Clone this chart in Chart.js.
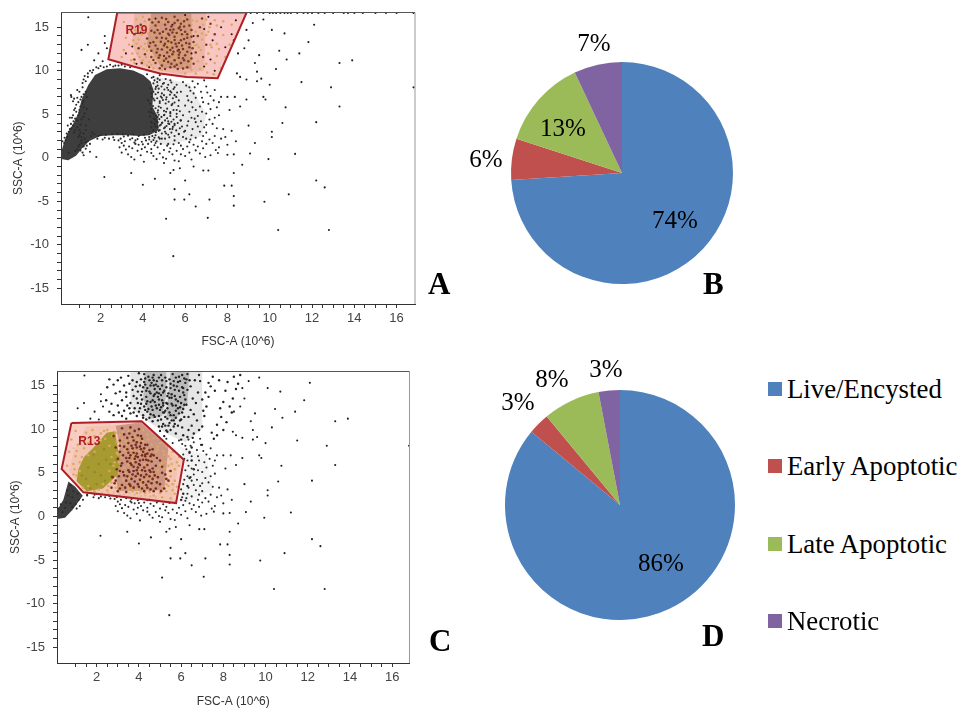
<!DOCTYPE html>
<html><head><meta charset="utf-8">
<script src="https://cdn.jsdelivr.net/npm/chart.js@4"></script>
<style>
html,body{margin:0;padding:0;background:#fff;overflow:hidden}
#page{position:relative;width:961px;height:709px}
canvas{position:absolute}
#a,#c{filter:blur(.35px)}
.tag{position:absolute;font:bold 31px "Liberation Serif",serif;color:#000;line-height:1}
.key{position:absolute;left:768px;font:26.8px "Liberation Serif",serif;color:#000;line-height:30px;white-space:nowrap;padding-left:19px}
.key i{position:absolute;left:0;top:8px;width:14px;height:14px}
</style></head><body>
<div id="page">
<canvas id="a" style="left:0px;top:0px" width="460" height="350"></canvas>
<canvas id="c" style="left:0px;top:360px" width="460" height="349"></canvas>
<canvas id="b" style="left:460px;top:0px" width="324" height="350"></canvas>
<canvas id="d" style="left:480px;top:350px" width="280" height="310"></canvas>
<div class="tag" style="left:428px;top:268px">A</div>
<div class="tag" style="left:703px;top:268px">B</div>
<div class="tag" style="left:429px;top:625px">C</div>
<div class="tag" style="left:702px;top:620px">D</div>
</div>
<script>
const pieLabels=['Live/Encysted','Early Apoptotic','Late Apoptotic','Necrotic'];
const pieColors=['#4F81BD','#C0504D','#9BBB59','#8064A2'];
const valuesB=[74,6,13,7];
const valuesD=[86,3,8,3];
const labelOffsetsB=[[53,48],[-136,-13],[-59,-44],[-28,-129]];
const labelOffsetsD=[[41,59],[-102,-102],[-68,-125],[-14,-135]];
const legendRows=[374,451,529,606];

const xTicks=[2,4,6,8,10,12,14,16];
const yTicks=[-15,-10,-5,0,5,10,15];

const gateA=[2.79,16.7,8.91,16.7,7.54,9.15,6.07,9.3,4.81,9.7,3.55,10.5,2.37,11.33,2.79,16.7];
const gateC=[0.8,10.7,4.13,10.9,6.13,6.5,5.76,1.53,1.37,2.76,0.34,5.43,0.8,10.7];
const blobA=[.13,-.15,.47,-.27,.84,.23,1.1,1,1.45,1.9,1.97,2.5,2.6,2.6,3.23,2.6,3.86,2.5,4.3,2.6,4.75,3.2,4.7,4.75,4.45,5.89,4.5,7.81,4.37,8.76,4.02,9.53,3.55,10.03,2.92,10.29,2.29,10.18,1.74,9.53,1.42,8.38,1.1,6.66,.95,5.13,.7,3.9,.4,2.64,.24,1.49,.13,.54,.13,-.15];
const blobC=[.11,-.3,.5,-.15,.86,.77,1.34,2.37,.97,3.44,.66,4,.42,1.91,.14,.77,.11,-.3];
const olivePatchC=[1.05,4.03,1.53,2.9,2.3,3.2,3,4.8,3.1,6.6,2.95,8.5,2.87,9.77,2.47,9.6,1.9,8,1.4,6.8,1.13,5.37,1.05,4.03];
const toneGateA=[3.6,16.7,7,16.7,6.9,10,5.8,9.6,4.8,10,3.9,10.7,3.5,13,3.6,16.7];
const coreGateA=[4.4,16.6,6.3,16.6,6.3,10.2,4.9,10.3,4.2,13,4.4,16.6];
const toneMidA=[4.5,9.4,6.2,8.5,7,5,6.8,2.5,5.2,1.4,4.3,2,4.4,5,4.5,9.4];
const toneUpperC=[3.6,16.7,7,16.7,7,10,6.2,8.5,5.4,9.4,4.4,10.9,3.6,12.5,3.6,16.7];
const ridgeOneC=[4.3,16.7,5.3,16.7,5.3,14,5.1,11.5,4.6,11.2,4.2,13.5,4.3,16.7];
const ridgeTwoC=[5.5,16.7,6.4,16.7,6.3,13,5.7,11,5.3,11.5,5.4,14,5.5,16.7];
const toneGateC=[.9,7.4,1.5,10.3,4.1,10.6,5.9,6.5,5.6,1.7,1.4,2.9,.7,5.3,.9,7.4];
const coreGateC=[2.9,10.4,4.1,10.8,5.4,8,5.2,3,3,2.9,2.9,5,3.1,8,2.9,10.4];
const toneRightC=[5.9,8,7.2,7,7.5,3,6.3,1.6,5.9,1.6,6.2,6.4,5.9,8];

const sparse=[1.42,16.15,12.1,15.3,11.83,13.3,11.4,12,13.3,10.9,13.9,11.2,11.5,8.7,12.9,8.1,13.3,5.9,12.2,4.1,11.2,.45,12.2,-2.6,12.6,-3.4,10.9,-4.2,9.75,-5.05,12.8,-8.3,10.4,-8.3,7.07,-6.9,5.1,-7,5.44,-11.3,2.18,-2.2,8.3,-5.5,8.3,-4.4,8.2,-3.2,7.85,-3.2,7.15,-4.8,6.5,-5.6,6.2,-4.2,5.96,-4.8,5.5,-4.8,5.5,-3.6,6,-2.6,4,-3.1,3.45,-1.75,4.57,-2.4,10,8.4,9.6,9.1,9.4,9.9,10.3,10.2,10.8,11.3,10.45,12.3,10.7,14.3,10.1,14.7,8.9,14.7,9.2,15.5,9.7,15.9,8.8,12.6,8.5,12,9,13.5,9.3,10.9,9.5,11.8,8.45,9.7,8.6,9.3,8.9,9,9.4,8.8,8,7,8.35,7,8.1,5.5,8.6,5.9,8.9,6.7,9.7,7,9.8,6.7,9,3.7,9.3,1.7,9.07,.5,9.94,-.15,10.1,3,10.1,2.4,10.6,4,10.75,5.8,8.3,.4,8,.35,8.7,-.8,8.3,-1.75,7.1,-1.45,6.86,-1.45,6.4,-1,5.75,-1.2,5.3,-1.75,5.45,-1.4,5,-.6,
16.8,8.1,2.2,14,2.2,13.2,2.3,12.6,1.1,12.4,1.4,13,1.7,11.2,1.9,12,2.1,11.1,.9,7.8,
9.1,16.65,9.4,16.65,9.7,16.65,10,16.65,10.15,16.65,10.3,16.65,10.5,16.65,10.7,16.65,10.85,16.65,11,16.65,11.3,16.65,11.6,16.65,11.8,16.65,12,16.65,12.3,16.65,12.6,16.65,13,16.65,13.5,16.65,13.7,16.65,14,16.65,14.4,16.65,15,16.65,15.5,16.65,16,16.65,16.8,16.65];
const midCloud=[4.7,9.1,5,8.6,5.3,8.9,5.6,8.4,5.9,8.7,6.2,8.1,6.6,8.5,7,8.2,7.4,7.8,6.1,7.1,6.4,7.4,6.8,6.9,7.2,7.1,7.7,7,6.3,6.4,6.7,5.9,7.1,6.2,7.5,5.8,6.2,5.3,6.6,4.8,7,5.1,7.4,4.6,6.1,3.7,6.5,4.1,6.9,3.5,7.3,3.9,7.8,3.3,6,3.1,6.3,2.6,6.7,3,7,2.9,7.4,2.5,6.2,1.8,6.6,1.3,7,1.6,7.6,1.2,8,1.5,3,.6,3.3,.4,3.6,-.2,3.9,.3,4.2,.7,4.5,.2,4.8,.5,5.1,-.1,5.4,.4,5.7,-.4,6,.2,6.3,-.2,6.7,.5,7.2,.3,3.1,1.4,3.5,1.1,3.8,1.5,4.1,1.2,4.4,1,4.7,1.2,5,.9,5.3,1.1,5.6,.8,5.9,1,6.35,8.8,6.9,8.9,
6.05,8.3,6.25,7.7,6.45,8.1,6.75,7.6,7.05,7.5,7.35,6.6,7.6,6.4,6.15,6.6,6.5,6.9,6.85,6.4,7.2,5.6,6.35,5.8,6.5,5.5,6.8,5.3,7.15,4.4,7.6,4.9,6.3,4.6,6.45,4.5,6.75,4.2,7,3.8,7.5,3.4,6.15,4.2,6.35,3.3,6.6,3.6,6.85,2.5,7.15,2.1,7.7,2.2,6.05,2.2,6.25,2.1,6.5,2.3,6.8,1.9,6.4,1.5,6.85,1.1,7.3,1.7,7.9,2.4,8.2,3.1,8.4,1.9,7.45,.9,6.5,.85,6.2,.6,5.8,.4,5.5,-.3,5.25,.7,4.95,.05,4.65,-.15,4.4,.55,4.05,-.45,3.75,.8,3.45,.1,3.2,.95,2.9,1.2,6.95,.1,7.55,.55,6.1,1.3,5.7,1.7,5.45,1.55,5.15,1.4,4.85,1.6,4.55,1.45,4.25,1.6,3.95,1,3.65,1.6,3.35,1.3];
const lowerFringe=[1.55,2.5,1.7,2.7,1.85,2.2,2,2.6,2.1,2.1,2.25,2.65,2.4,2.2,2.55,2.7,2.65,2.05,2.8,2.75,2.95,2.2,3.05,2.7,3.15,1.9,3.3,2.55,3.4,2.1,3.55,2.7,3.65,2,3.8,2.5,3.95,1.85,4.05,2.65,4.15,2,4.3,2.4,4.4,1.85,4.55,2.3,4.65,1.9,4.8,2.2,1.9,2.5,2.2,2.3,2.6,2.35,2.85,2,3.1,2.45,3.5,2.25,3.75,2.15,4.1,2.3,4.5,2.05,3,1.7,3.6,1.75,4,1.55];
const nearBlobRightA=[4.42,9.2,4.55,8.9,4.68,8.7,4.8,8.95,4.95,8.5,5.08,9.05,5.2,8.4,5.35,8.65,5.5,8.1,4.5,8.55,4.62,8.15,4.75,7.95,4.88,8.2,5.02,7.85,5.15,8.05,5.3,7.65,5.45,7.9,5.62,7.5,4.5,7.6,4.6,7.3,4.72,7.5,4.85,7.05,5,7.2,5.12,6.95,5.28,7.25,5.42,6.85,5.58,7,4.42,7,4.55,6.6,4.68,6.85,4.8,6.5,4.95,6.65,5.08,6.25,5.22,6.45,5.36,6.05,5.5,6.35,5.68,5.95,4.35,6.2,4.48,5.95,4.6,5.7,4.72,5.45,4.85,5.75,5,5.4,5.15,5.65,5.3,5.25,5.45,5.5,5.6,5.05,5.75,5.35,4.5,5.1,4.62,4.85,4.75,4.95,4.88,4.7,5.02,4.95,5.15,4.55,5.3,4.8,5.45,4.4,5.6,4.7,5.78,4.3,4.52,4.5,4.65,4.2,4.78,4.45,4.92,4.05,5.05,4.3,5.2,3.95,5.35,4.15,5.5,3.75,5.65,4,5.85,3.6,4.55,3.9,4.7,3.55,4.85,3.8,5,3.4,5.12,3.65,5.28,3.3,5.42,3.55,5.58,3.15,5.75,3.4,5.95,3,4.4,3.5,4.5,3.15,4.62,2.95,4.75,3.1,4.9,2.8,5.05,3,5.2,2.65,5.35,2.9,5.5,2.5,5.7,2.75,5.9,2.4,4.45,2.5,4.6,2.6,4.75,2.35,5.05,2.2,5.25,2.35,4.4,4.1,4.35,4.75,4.3,5.3,4.4,5.2,4.25,6.6,4.4,7.4,4.35,8,4.7,4.1,4.6,3.6,4.8,3.7,5.05,3.5,5.25,3.9,5,4.9,5.2,4.2,4.7,4.7,5.1,5.3,4.75,5.9,4.9,6.9,5.35,7.5,4.7,8.3,4.6,7.9,4.9,7.4,5.2,7.8,5.5,7.2,5.8,7.6,4.5,6.8,4.8,6.3,5.1,6.7,5.4,6.2,5.7,6.6,6,6,4.4,5.6,4.7,5.2,5.3,5.1,5.6,5.5,5.9,4.9,4.6,4.4,4.9,4,5.5,3.9,5.8,4.3,4.8,3.2,5.1,2.8,5.4,3.3,5.7,2.7,4.3,2.1,4.6,1.7,4.9,2.2,5.2,1.6,5.5,2,5.8,1.4];
const blobEdgeA=[.6,7.2,.75,6.8,.95,6.4,.8,5.7,1,5.5,.55,4.6,.7,4.9,.9,4.3,.45,3.7,.62,3.4,.4,2.8,.3,2.3,1.15,8.1,1.2,7.3,1.3,8.8,1.4,9.3,1.6,9.8,1.9,10.3,2.3,10.5,2.7,10.6,3,10.7,3.4,10.4,1.3,3.2,1.6,2.9,1.1,2,1.3,1.8,.95,1.3,.8,.8,1,2.6,.9,.95,1.35,1.4,4.2,9.6,4.5,9.3,4.8,9.5,.5,.6,1.2,.3,1.5,.7,1.8,.1,
.62,7,.7,6.5,.85,6.1,.9,6.9,1,7.6,1.05,6.7,1.1,7,1.15,6.2,1.2,5.8,1,5.2,.95,4.9,.85,5.3,.75,5.5,.8,4.5,.72,4.2,.65,4.6,.6,3.9,.55,3.3,.5,3,.42,2.4,.35,2,.28,1.7,.2,1.9,.7,3.7,.8,3.2,.75,2.9,.9,3.5,1,3.2,.95,2.4,1.05,2.9,1.1,2.4,1.2,2.8,1.25,2.2,1.1,1.7,1,1.5,1.2,1.3,1.4,1.9,1.5,1.6,1.3,1.05,1.05,.85,1.15,.6,1.15,8.6,1.2,9,1.25,9.4,1.4,9.7,1.5,10,1.65,10.1,1.8,10.4,2,10.55,2.15,10.4,2.45,10.7,2.6,10.5,2.85,10.6,3.15,10.5,1.05,5.9,1.2,6.5,1.3,7.6,1.35,7,1.1,4.4,1.25,5.1,1.35,5.6,1.2,4.7,1.05,3.8,1.3,3.7,1.45,4.4];
const gateABrown=[4.3,15.9,4.6,15.2,4.9,16.1,5.2,15.6,5.5,16.2,5.8,15.4,6.1,15.9,4.4,14.6,4.8,14.3,5.1,14.8,5.4,14.4,5.7,14.9,6,14.5,6.3,14.7,4.2,13.7,4.5,13.3,4.9,13.8,5.2,13.4,5.5,13.9,5.8,13.5,6.1,13.8,6.4,13.3,4.3,12.8,4.7,12.5,5,12.9,5.3,12.4,5.6,12.8,5.9,12.5,6.2,12.7,4.1,11.9,4.4,11.6,4.8,11.8,5.1,11.4,5.4,11.9,5.7,11.5,6,11.8,6.3,11.4,4.6,10.9,4.9,10.6,5.2,11,5.5,10.5,5.8,10.9,6.1,10.4,5.35,15.1,5.65,15.8,5.95,15.1,5.05,15.3,5.25,14.1,5.55,13.1,5.85,14.2,5.15,12.1,5.45,12.2,5.75,12.1,5.05,13.1,4.65,13.8,6.05,13.2,5.35,10.8,5.05,10.2,5.65,10.2,5.95,11.2,6.5,12.1,6.6,14,6.7,15,6.8,16,6.85,11.6,7,13,7.2,15.4,7.4,14.2,3.9,15.3,3.6,14.2,3.8,12.6,3.6,11.3,3.95,10.9,
4.45,15.55,4.75,15.6,5.1,15.95,5.3,14.7,5.5,15.5,5.75,15.05,5.95,15.7,6.2,15.2,4.55,14.4,4.7,14.7,4.95,14.5,5.2,14.25,5.45,14.75,5.6,14.35,5.8,14.7,6.1,14.2,6.3,13.9,4.35,13.2,4.6,12.9,4.85,13.35,5.1,13.7,5.35,13.25,5.5,13.55,5.7,13.2,5.95,13.65,6.2,13.1,4.4,12.3,4.65,12.1,4.9,12.45,5.15,12.7,5.4,12.65,5.65,12.3,5.85,12.9,6.1,12.2,6.35,12.6,4.5,11.25,4.75,11.5,5,11.15,5.25,11.65,5.5,11.2,5.7,11.85,5.9,11.45,6.15,11.1,6.4,10.8,4.8,10.3,5.3,10.4,5.6,10.7,5.9,10.25];
const gateAOrange=[3.1,15.6,3.4,14.9,3.7,15.9,4,16.2,4.15,14.9,4.55,15.8,4.75,14.9,5.35,15.9,5.9,16.1,6.3,15.3,6.55,15.7,7,15.9,7.4,15.8,7.8,15.7,8.2,15.3,3.2,13.8,3.35,13,3.1,12.4,3.5,12,3,11.6,3.45,11.2,3.8,13.6,3.95,14.2,4.1,13.1,4.45,14.1,4.7,13.1,5,14.2,5.25,13,5.6,14.2,5.75,13,6.2,14.2,6.5,14.5,6.8,13.6,7.1,14.5,7.5,13.1,7.8,14.1,8.1,13,4.2,12.3,4.55,12.1,4.9,12.2,5.2,12.7,5.5,11.6,5.85,12,6.1,12.2,6.45,12.9,6.75,12.4,7.1,12,7.5,11.7,7.9,11.6,4,11.2,4.3,11,4.7,11.3,5.05,10.9,5.35,11.3,5.6,11.1,5.95,10.6,6.25,10.9,6.6,11.1,7,10.8,7.4,10.9,7.7,10.3,4.5,10.3,4.9,10.1,6.3,10.1,6.7,10.2,7.05,9.8,7.35,9.6,6,9.7,6.5,9.7,4.95,15.7,5.65,15.3,6.05,15.6,4.1,15.7,4.4,15.3,
3.7,13.1,3.55,13.5,3.3,14.4,3.65,14.7,3.85,15,3.75,12,3.9,12.8,4.05,12.5,4.15,11.6,3.85,11.6,3.6,10.9,4.2,10.6,4.4,10.7,4.55,11.6,4.25,14.3,4.35,12.5,4.6,13.5,4.85,12.8,4.8,11.2,4.95,11.6,5.15,13.2,5.1,12.5,5.3,11.8,5.4,13.6,5.55,12.4,5.7,13.7,5.85,14.4,6,12.7,6.25,11.7,6.55,13,6.65,12.7,6.8,14.3,7,14.1,7.25,12.7,7.6,12.5,7.2,13,6.35,15.8,6.85,15.3,7.15,15,7.5,15.2];
const gateABlack=[3.9,14.4,4.6,16,5.4,15.3,6,16.4,6.4,14,6.9,14.8,7.3,13.5,7.7,15,8.2,14.2,3.5,12.8,3.2,12,3.7,10.8,4.3,10.4,5,11.7,5.7,12.4,6.3,12,6.9,10.5,7.2,11.3,7.4,10,7.9,12.7,8.3,13.5,8.4,15.8,7.1,16.2];
const upperC=[3,15.6,3.3,15,3.5,16.1,3.7,14.5,3.9,15.4,4,16.4,4.1,13.9,4.2,14.8,4.3,15.8,4.4,13.2,4.5,14.3,4.6,15.3,4.7,16.2,4.8,12.7,4.9,13.7,5,14.6,5.1,15.6,5.2,11.9,5.3,13,5.4,14.1,5.5,15.2,5.6,16.3,3.4,13.7,3.6,13,3.8,12.4,3.9,13.5,4,12,4.1,12.9,4.2,11.6,4.3,12.2,4.4,14.7,4.5,11.3,4.6,12.6,4.7,13.8,4.8,15.1,4.9,11,5,12.2,5.1,13.3,5.2,14.4,5.3,15.5,5.4,10.4,5.5,11.6,5.6,12.7,5.7,13.8,5.8,14.9,5.9,16,6,11.1,6.1,12.3,6.2,13.4,6.3,14.5,6.4,15.6,5.5,9.9,5.7,10.6,5.9,11.8,6,13,6.1,14.2,6.2,15.3,6.3,16.3,6.5,10.4,6.6,11.7,6.7,13,6.8,14.2,6.9,15.5,5.1,10.3,5.2,9.2,5,9.8,4.7,11.6,4.4,12,4.2,11.3,3.9,11.5,3.6,11.8,3.2,11.5,3,12.7,2.7,12.9,2.9,14.1,2.5,14.8,3.1,14.3,6.3,9.1,6.6,9.5,7,10.3,7.1,11.5,7.2,12.6,7.3,13.7,7.4,14.9,7.5,16,7.7,10.5,7.9,11.4,8,13.1,8.1,14.4,8.2,15.4,8.5,16,8.6,14.6,6,8.8,6.4,7.3,6.5,6.4,6.6,5.4,6.4,4.4,6.3,3.5,6.1,2.6,6,1.9,4.7,15.6,4.75,14.6,4.85,14.2,4.95,15.9,5.05,13.9,5.15,12.7,5.25,11.4,5.35,12.4,5.45,13.6,4.55,15,4.65,13.3,4.35,13.7,4.25,15.4,5.65,11,5.75,12.1,5.85,13.2,5.95,15.5,5.05,11.1,5.15,10.6,4.95,12.8,4.65,10.9,4.35,11.1,5.55,14,5.65,15,5.75,15.9,6.05,14.8,6.15,15.8,6.25,12.8,6.35,11.4,
4.25,16.3,4.45,16,4.65,15.9,4.85,15.5,5.05,16.2,5.25,15.9,5.45,15.7,5.65,15.5,5.85,15.4,6.05,16.2,6.25,15.7,4.3,15.1,4.5,15.6,4.7,15,4.9,14.9,5.1,15,5.3,14.8,5.5,14.7,5.7,14.5,5.9,14.4,6.1,14.7,4.15,14.3,4.35,14.4,4.55,14.1,4.75,14,4.95,14.1,5.15,14.2,5.35,13.8,5.55,13.6,5.75,13.4,5.95,13.7,6.15,13.9,3.95,13,4.15,13.4,4.35,12.9,4.55,13.1,4.75,13.1,4.95,13.4,5.15,13,5.35,12.9,5.55,12.9,5.75,12.7,5.95,12.5,6.15,12.8,4.05,12.4,4.25,12.6,4.45,12.3,4.65,12.2,4.85,12.4,5.05,12.5,5.25,12.1,5.45,11.9,5.65,11.6,5.85,12.4,6.05,11.9,4.55,11.7,4.75,11.4,4.95,11.5,5.15,11.9,5.35,11.2,5.55,11,5.75,11.3,5.95,11,6.15,11.4,4.95,10.3,5.25,10.4,5.45,10.7,5.65,10.3,5.85,10.4,6.05,10.2,5.35,9.7,5.75,9.5,6.1,9.3,5.3,9.85,6.35,9.9,6.55,9,6.85,9.9,6.75,11,6.45,12.2,6.55,13.5,6.45,14.9,6.65,15.6,6.85,16.2,7,13.4,7.05,12.1,7.15,14.2,7.3,15.3,3.15,15.9,3.4,14.2,3.55,15.2,3.7,15.6,3.75,13.8,3.85,14.9,3.95,14.3,4.05,15,4.1,15.7,3.55,12.4,3.75,11.9,3.45,12.7,3.2,13.3,3.3,12.1,3.05,11.9,2.8,11.6,3.4,11.2,2.6,12,2.45,13.3,2.6,15.7,2.8,15.1,7.6,14.4,7.8,15.6,7.85,12.4,8.3,12.6,8.4,11.9,8.45,13.5,8.7,15.2,8.8,16.2,7.45,9.6,7.7,9.3,8,9.9,8.15,10.8,7.55,8.9,6.95,8.2,6.5,7.9];
const blobEdgeC=[.2,.9,.3,1.4,.38,.5,.5,1,.55,1.6,.65,2.4,.75,1.5,.85,2.2,1,1.4,1.15,1.9,.6,3,.75,3.6,.9,2.9,1.1,2.6,1.25,3.1,1.05,.9,.85,1.1,1.2,1.2,1.35,1.9,1.55,2.4];
const gateCBrown=[2.8,9.2,3.1,8.7,3.3,9.4,3.5,8.4,3.7,9.1,3.9,8.5,4.1,9.2,4.3,8.2,2.9,7.9,3.1,7.4,3.3,8,3.5,7.3,3.7,7.8,3.9,7.2,4.1,7.7,4.3,7.1,4.5,7.6,4.7,7,3,6.6,3.2,6.1,3.4,6.7,3.6,6.1,3.8,6.6,4,6,4.2,6.5,4.4,5.9,4.6,6.3,4.8,5.8,5,6.4,3.1,5.2,3.3,4.7,3.5,5.3,3.7,4.8,3.9,5.3,4.1,4.7,4.3,5.2,4.5,4.6,4.7,5.1,4.9,4.5,5.1,5,2.9,4.1,3.2,3.6,3.4,4.1,3.6,3.5,3.8,4,4,3.4,4.2,3.9,4.4,3.3,4.6,3.8,4.8,3.2,5,3.7,3.8,9.8,4,10,3.6,10.2,3.2,10.1,2.7,3.3,3,2.9,3.4,2.8,4.3,6.9,4.1,8.4,3.9,7.9,3.6,7,3.75,5.7,3.95,5.6,4.05,6.4,3.85,6.9,4.2,7.4,4.4,8.2,4.5,5.3,4.6,7.1,5.2,3.2,5.3,4.3,5.5,5.2,
3.55,9.5,3.75,8.7,3.95,9.3,4.15,8.9,4.25,7.8,4.05,8,3.85,8.2,3.65,8.1,3.45,7.7,3.25,7,3.55,6.7,3.75,7.3,3.95,6.8,4.15,7,4.35,6.5,4.55,6.9,3.45,6.3,3.65,5.9,3.85,6.2,4.05,5.9,4.25,5.6,4.45,6.4,4.65,5.5,3.55,5.1,3.75,5.2,3.95,4.9,4.15,5.3,4.35,4.8,4.55,5.1,4.75,4.7,3.45,4.6,3.65,4.3,3.85,4.6,4.05,4.2,4.25,4.5,4.45,4,4.65,4.3,4.85,3.9,3.55,3.7,3.75,3.3,3.95,3.7,4.15,3.2,4.35,3.6,4.55,3.1,2.75,4.5,2.95,5.4,3.05,4.6,3.15,5.8,3.25,5.1,2.85,3.8,3.1,3.2,3.35,3.3,4.25,2.9,4.7,2.9,5.05,2.9,3.1,8.1,3.45,9,4.4,7.2,4.65,7.7,4.85,6.7,5.1,5.7,5.25,4.8,5.4,4.1];
const gateCOrange=[1,9.8,1.3,9,1.5,9.6,1.8,9.9,1.1,8.2,1.4,7.8,1.7,8.5,1,6.9,.9,6,1.3,6.8,.7,7.4,.8,8.8,2.2,9.5,2.5,9.9,2.9,9.6,3.2,8.9,3.5,9.8,3.8,9.2,4.2,9.9,4.4,9.4,4.7,9,5,8.4,5.3,8,5.6,7.4,5.9,6.8,4.6,8.2,4.9,7.6,5.2,7.1,5.5,6.6,5.8,6.2,5.1,6.1,5.4,5.8,5.7,5.4,5.9,5.8,5.2,5.5,5.5,4.6,5.7,4.1,5.8,3.4,5.6,3.7,5.4,3.5,5.7,2.6,5.5,2.1,5.1,2.2,4.7,2.4,4.3,2.7,3.9,2.7,3.5,3.1,3.1,3.4,2.7,3.9,2.5,3,2.3,3.7,2.6,5.2,2.8,5.8,2.7,6.8,2.6,8.1,3,7.1,3.3,5.6,3.5,5.9,3.7,6.3,3.4,7.5,3.2,8.2,3.6,8.8,3.8,7.5,4.3,4.4,4.6,4.9,4.9,5.3,5,5.9,4.8,6.6,4.4,7.7,4.8,7.4,2.4,8.9,2.2,8.7,1.9,7.4,1.6,7,1.2,5.2,1.6,3.5,1.9,2.9,2.1,3.1,.6,5.8,.9,4.8,5.3,2.9,5.6,3,
3.1,9.3,3.4,8.6,3.3,7.6,3.05,6.2,3.2,6.8,2.95,7.3,2.85,6.2,3.05,5,3.35,5,3.55,4.4,3.25,4.2,3.5,3.4,3.9,3.1,4.1,3.6,4.5,3.5,4.8,4.2,4.2,4.1,3.9,4.5,4.05,5.1,4.25,6,4.5,6.6,4,7.45,3.75,6.9,3.65,7.6,3.5,8.2,3.95,8.85,4.2,8.6,4.45,8.8,4.9,8,5.15,7.5,5.4,6.9,5.25,6.3,5.55,6,5.45,5.2,5.3,3.7,5.1,3.5,5,2.7,4.5,2.8,2.9,3.3,2.55,3.5,3.7,2.9,4.1,2.9,3.25,9.7,2.95,8.5,2.75,9.2,2.35,9.8,1.9,9.2,1.6,8.4,1.25,8.6,1.05,7.5,1.2,6.2,.95,5.4,1.05,4.7,1.35,3.3];
const upperGateC=[1.3,4.7,1.6,5.6,1.9,5.1,2.1,6,1.5,4.3,2.2,4.7,2.45,6.5,2.65,6,1.85,7.1,2.35,7.7,2.7,4.6,2.4,4.1,2,3.7,1.7,3.2,2.9,6.4];

function pts(a){const r=[];for(let i=0;i<a.length;i+=2)r.push({x:a[i],y:a[i+1]});return r}
function cloud(a,color,order,radius){return{data:pts(a),backgroundColor:color,borderColor:color,pointRadius:radius||1.05,pointBorderWidth:0,showLine:false,order}}
function area(a,color,order,line,width){return{data:pts(a),showLine:true,fill:'shape',backgroundColor:color,borderColor:line||color,borderWidth:width||0,pointRadius:0,tension:0,order}}

const frame={id:'frame',afterDraw(ch){const a=ch.chartArea,c=ch.ctx;c.save();c.strokeStyle='#555';c.lineWidth=1;c.beginPath();c.moveTo(a.left,a.top);c.lineTo(a.right,a.top);c.stroke();c.strokeStyle='#999';c.beginPath();c.moveTo(a.right,a.top);c.lineTo(a.right,a.bottom);c.stroke();
 const g=ch.options.plugins.gateLabel;c.fillStyle='#B01E22';c.font='bold 12px "Liberation Sans",sans-serif';c.textAlign='center';c.textBaseline='middle';c.fillText(g.text,ch.scales.x.getPixelForValue(g.x),ch.scales.y.getPixelForValue(g.y));c.restore()}};
const pieText={id:'pieText',afterDraw(ch){const c=ch.ctx,m=ch.getDatasetMeta(0).data[0],off=ch.options.plugins.pieText.offsets,v=ch.data.datasets[0].data;c.save();c.fillStyle='#000';c.font='25px "Liberation Serif",serif';c.textAlign='center';c.textBaseline='middle';v.forEach((t,i)=>c.fillText(t+'%',m.x+off[i][0],m.y+off[i][1]));c.restore()}};

function scatter(id,sets,xr,yr,yw,gl,yTitlePad,xTitlePad){
 const tf={size:13,family:'"Liberation Sans",sans-serif'};
 new Chart(document.getElementById(id),{type:'scatter',data:{datasets:sets},plugins:[frame],options:{responsive:false,animation:false,events:[],
  layout:{padding:{top:yr[2],right:xr[2],left:0,bottom:0}},
  plugins:{legend:{display:false},tooltip:{enabled:false},gateLabel:gl},
  scales:{
   x:{type:'linear',min:xr[0],max:xr[1],afterFit(s){s.height=46;s.paddingRight=0;s.paddingLeft=0},afterBuildTicks(s){s.ticks=s.ticks.filter(t=>Number.isInteger(t.value*2))},
    border:{color:'#333',width:1},grid:{drawOnChartArea:false,tickLength:4,tickColor:'#333'},
    ticks:{stepSize:.5,autoSkip:false,maxRotation:0,font:tf,color:'#444',padding:3,callback:v=>xTicks.includes(v)?String(v):''},
    title:{display:true,text:'FSC-A (10^6)',color:'#333',font:{size:12,family:tf.family},padding:{top:0,bottom:xTitlePad}}},
   y:{type:'linear',min:yr[0],max:yr[1],afterFit(s){s.width=yw;s.paddingTop=0;s.paddingBottom=0},afterBuildTicks(s){s.ticks=s.ticks.filter(t=>Number.isInteger(t.value))},
    border:{color:'#333',width:1},grid:{drawOnChartArea:false,tickLength:4,tickColor:'#333'},
    ticks:{stepSize:1,autoSkip:false,font:tf,color:'#444',padding:8,callback:v=>yTicks.includes(v)?String(v):''},
    title:{display:true,text:'SSC-A (10^6)',color:'#333',font:{size:12,family:tf.family},padding:{top:yTitlePad,bottom:0}}}
  }}});
}
scatter('a',[
 area(gateA,'rgba(240,120,115,.42)',7),
 area(blobA,'#3e3e3e',6),area(toneGateA,'rgba(190,110,50,.2)',6),area(coreGateA,'rgba(110,50,20,.25)',6),area(toneMidA,'rgba(50,50,50,.1)',6),
 cloud(blobEdgeA,'#2a2a2a',4),cloud(sparse,'#1d1d1d',4),cloud(midCloud,'#2a2a2a',4),cloud(lowerFringe,'#2a2a2a',4),cloud(nearBlobRightA,'#2a2a2a',4),
 cloud(gateAOrange,'#dca85e',3,1.25),cloud(gateABrown,'#7c3a1c',2,1.25),cloud(gateABlack,'#2d1a12',2),
 area(gateA,'rgba(0,0,0,0)',1,'#AE1F25',2)
],[.13,16.87,45],[-16.8,16.7,12.5],61,{text:'R19',x:3.7,y:14.6},11,1);
scatter('c',[
 area(toneUpperC,'rgba(40,40,40,.12)',7),area(ridgeOneC,'rgba(40,40,40,.22)',7),area(ridgeTwoC,'rgba(40,40,40,.22)',7),area(toneRightC,'rgba(50,50,50,.06)',7),
 area(blobC,'#3e3e3e',6),
 cloud(blobEdgeC,'#2a2a2a',5),cloud(sparse,'#1d1d1d',5),cloud(midCloud,'#2a2a2a',5),cloud(lowerFringe,'#2a2a2a',5),cloud(upperC,'#222',5,1.2),
 area(gateC,'rgba(250,200,190,.9)',4.5),
 area(toneGateC,'rgba(200,140,70,.15)',4.4),area(coreGateC,'rgba(110,45,25,.3)',4.3),
 area(olivePatchC,'#a69a30',4),
 cloud(gateCOrange,'#dca85e',3,1.25),cloud(upperGateC,'#8c8a2a',3,1.2),cloud(gateCBrown,'#7a2a18',2,1.3),
 area(gateC,'rgba(0,0,0,0)',1,'#AE1F25',2)
],[.12,16.82,50.5],[-16.78,16.6,11.5],57,{text:'R13',x:1.65,y:8.6},8,0);

function pie(id,vals,off,radius,bottom){
 new Chart(document.getElementById(id),{type:'pie',data:{labels:pieLabels,datasets:[{data:vals,backgroundColor:pieColors,borderWidth:0,radius}]},plugins:[pieText],options:{responsive:false,animation:false,events:[],layout:{padding:{bottom}},plugins:{legend:{display:false},tooltip:{enabled:false},pieText:{offsets:off}}}});
}
pie('b',valuesB,labelOffsetsB,111,4);
pie('d',valuesD,labelOffsetsD,115,0);
pieLabels.forEach((t,i)=>{const k=document.createElement('div');k.className='key';k.style.top=legendRows[i]+'px';k.textContent=t;const b=document.createElement('i');b.style.background=pieColors[i];k.prepend(b);document.getElementById('page').appendChild(k)});
</script>
</body></html>
